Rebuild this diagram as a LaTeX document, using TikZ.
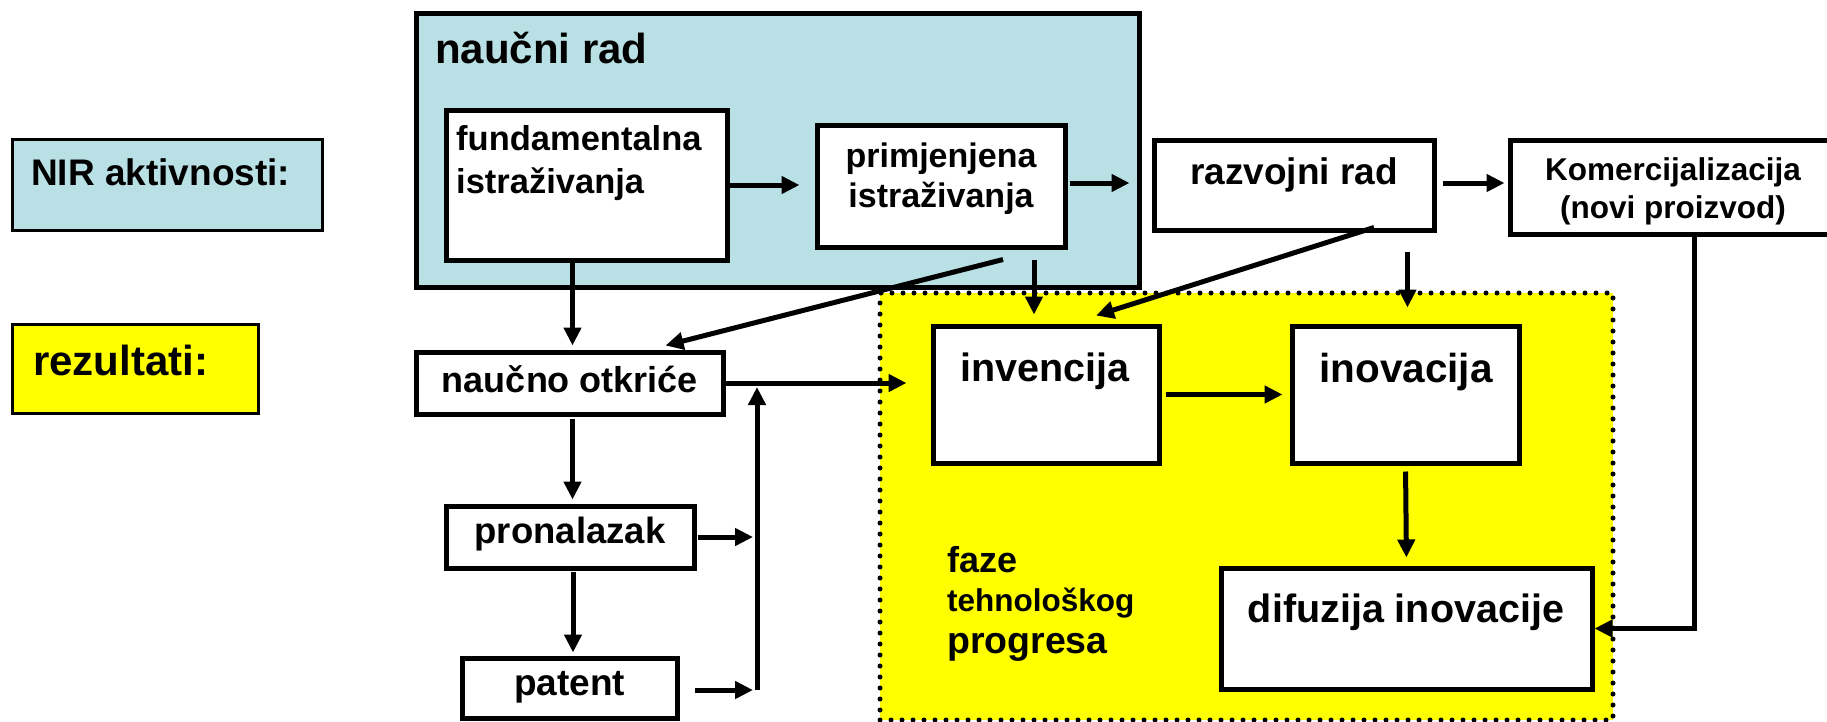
\documentclass[tikz,border=0pt]{standalone}
\usepackage{fontspec}
\setmainfont{Liberation Sans}
\usetikzlibrary{arrows.meta}
\definecolor{nirblue}{RGB}{185,224,228}
\definecolor{resyellow}{RGB}{255,255,0}
\newcommand\fsz[1]{\fontsize{#1}{#1}\selectfont}
\begin{document}
\begin{tikzpicture}[x=1pt,y=-1pt,
  box/.style={draw=black, line width=5pt, fill=white, inner sep=0pt},
  legendbox/.style={draw=black, line width=3pt, inner sep=0pt},
  txt/.style={inner sep=0pt, anchor=base, font=\bfseries},
  txtl/.style={inner sep=0pt, anchor=base west, font=\bfseries},
  arr/.style={line width=5pt, -{Triangle[length=18pt,width=17pt]}},
  plainline/.style={line width=5pt}]
\useasboundingbox (0,0) rectangle (1827,721);

% legend
\node[legendbox, fill=nirblue, minimum width=310pt, minimum height=91pt] (nir) at (167,184.5) {};
\node[legendbox, fill=resyellow, minimum width=246pt, minimum height=89pt] (rez) at (135,368.5) {};
\node[txtl, font=\bfseries\fsz{37}] (nirT) at (31,185) {NIR aktivnosti:};
\node[txtl, font=\bfseries\fsz{42}] (rezT) at (33,375) {rezultati:};

% group boxes
\node[box, fill=nirblue, minimum width=723pt, minimum height=274pt] (naucni) at (777.5,150) {};
\node[txtl, font=\bfseries\fsz{42}] (naucniT) at (435,63) {naučni rad};
\node[draw=black, fill=resyellow, line width=5pt, dash pattern=on 0pt off 11pt, line cap=round,
      inner sep=0pt, minimum width=733pt, minimum height=427pt] (faze) at (1246.5,506.5) {};

% boxes
\node[box, minimum width=281pt, minimum height=150pt] (fund) at (586.5,185) {};
\node[box, minimum width=248pt, minimum height=122pt] (prim) at (941,186) {};
\node[box, minimum width=280pt, minimum height=90pt] (razv) at (1294,185) {};
\node[box, minimum width=330pt, minimum height=94pt] (kom) at (1675,187) {};
\node[box, minimum width=307pt, minimum height=62pt] (otk) at (569.5,383) {};
\node[box, minimum width=248pt, minimum height=62pt] (pron) at (570,537) {};
\node[box, minimum width=215pt, minimum height=60pt] (pat) at (569.5,688) {};
\node[box, minimum width=226pt, minimum height=137pt] (inv) at (1046,394.5) {};
\node[box, minimum width=227pt, minimum height=137pt] (inov) at (1405.5,394.5) {};
\node[box, minimum width=371pt, minimum height=121pt] (dif) at (1406.5,628.5) {};

% texts
\node[txtl, font=\bfseries\fsz{34.5}] (fundT1) at (456,150) {fundamentalna};
\node[txtl, font=\bfseries\fsz{34.5}] (fundT2) at (456,193) {istraživanja};
\node[txt, font=\bfseries\fsz{34}] (primT1) at (941,167) {primjenjena};
\node[txt, font=\bfseries\fsz{34}] (primT2) at (941,207) {istraživanja};
\node[txt, font=\bfseries\fsz{37}] (razvT) at (1294,184) {razvojni rad};
\node[txt, font=\bfseries\fsz{31.5}] (komT1) at (1673,180) {Komercijalizacija};
\node[txt, font=\bfseries\fsz{31.5}] (komT2) at (1673,218) {(novi proizvod)};
\node[txt, font=\bfseries\fsz{36}] (otkT) at (570,392) {naučno otkriće};
\node[txt, font=\bfseries\fsz{36.5}] (pronT) at (570,543) {pronalazak};
\node[txt, font=\bfseries\fsz{37}] (patT) at (569.5,695) {patent};
\node[txt, font=\bfseries\fsz{39.5}] (invT) at (1045,381) {invencija};
\node[txt, font=\bfseries\fsz{40.5}] (inovT) at (1406,382) {inovacija};
\node[txt, font=\bfseries\fsz{39.5}] (difT) at (1406,622) {difuzija inovacije};
\node[txtl, font=\bfseries\fsz{36}] (fazeT1) at (947,572) {faze};
\node[txtl, font=\bfseries\fsz{31.5}] (fazeT2) at (947,611) {tehnološkog};
\node[txtl, font=\bfseries\fsz{37.5}] (fazeT3) at (947,653) {progresa};

% bus coordinates
\coordinate (busT) at (757,387);
\coordinate (busB) at (757,690);
\coordinate (komDown) at (1694,234);

% arrows
\draw[arr, shorten >=15pt] (fund.east) -- (prim.west |- fund.east);
\draw[arr, shorten <=2pt, shorten >=22pt] ([yshift=3pt]prim.east) -- ([yshift=3pt]prim.east -| razv.west);
\draw[arr, shorten <=6pt, shorten >=3pt] ([yshift=2pt]razv.east) -- ([yshift=2pt]razv.east -| kom.west);
\draw[arr, shorten <=-3pt, shorten >=4pt] ([xshift=3pt]otk.north |- fund.south) -- ([xshift=3pt]otk.north);
\draw[arr] ([xshift=62pt,yshift=-10pt]prim.south) -- ([xshift=96pt,yshift=4pt]otk.north);
\draw[arr, shorten <=10pt, shorten >=9pt] ([xshift=-12pt]inv.north |- prim.south) -- ([xshift=-12pt]inv.north);
\draw[arr] ([xshift=80pt,yshift=5pt]razv.south) -- ([xshift=50pt,yshift=8pt]inv.north);
\draw[arr, shorten <=19pt, shorten >=16pt] ([xshift=2pt]inov.north |- razv.south) -- ([xshift=2pt]inov.north);
\draw[arr, shorten <=2pt, shorten >=4pt] ([xshift=3pt]otk.south) -- ([xshift=3pt]otk.south |- pron.north);
\draw[arr, shorten <=1pt, shorten >=3pt] ([xshift=3pt]pron.south) -- ([xshift=3pt]pron.south |- pat.north);
\draw[arr, shorten >=24pt] (otk.east) -- (otk.east -| inv.west);
\draw[arr, shorten <=1pt, shorten >=4pt] (pron.east) -- (pron.east -| busB);
\draw[arr, shorten <=15pt, shorten >=4pt] ([yshift=-2pt]pat.east) -- ([yshift=-2pt]pat.east -| busB);
\draw[arr] (busB) -- (busT);
\draw[arr, shorten <=4pt, shorten >=7pt] (inv.east) -- (inov.west);
\draw[arr, shorten <=6pt, shorten >=8pt] (inov.south) -- (dif.north);
\draw[arr] (komDown) |- (dif.east);
\end{tikzpicture}
\end{document}
